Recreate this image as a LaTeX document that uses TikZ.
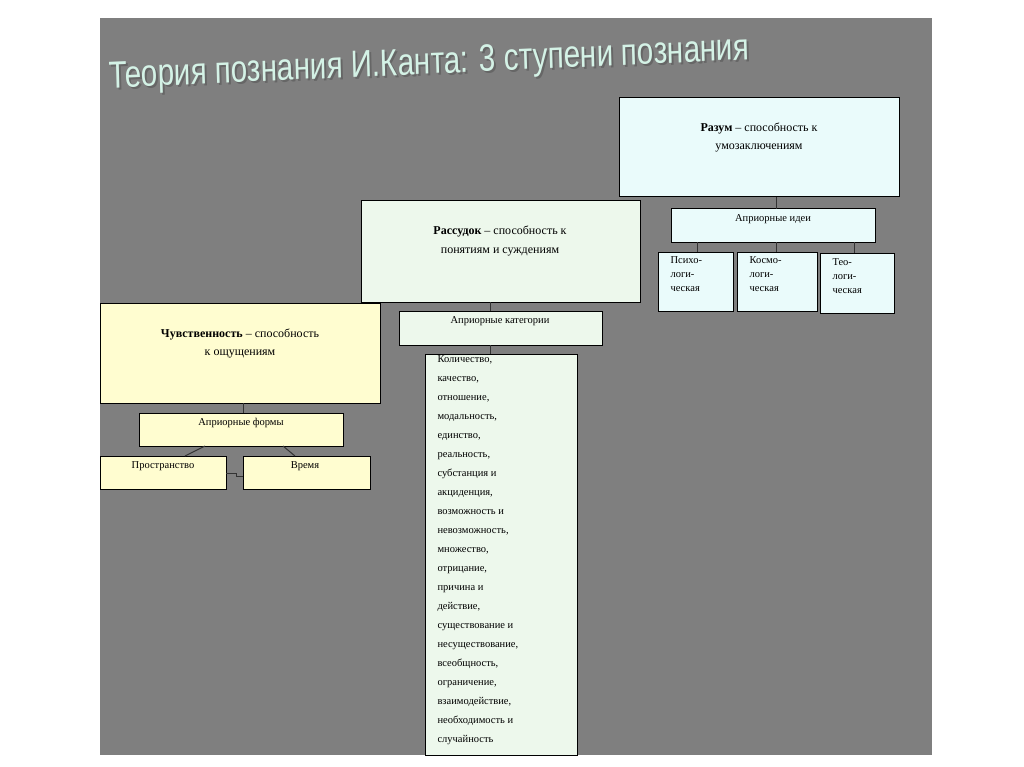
\documentclass[tikz,border=0pt]{standalone}
\usepackage{fontspec}
\setmainfont{Liberation Serif}
\newfontfamily\titlefont{Liberation Sans}
\usetikzlibrary{positioning}

\definecolor{panelgray}{HTML}{7F7F7F}
\definecolor{razumfill}{HTML}{EAFBFB}
\definecolor{rassudokfill}{HTML}{EDF8EC}
\definecolor{chuvfill}{HTML}{FFFDD0}
\definecolor{titlecol}{HTML}{D4F2E6}

\begin{document}
\begin{tikzpicture}[
    x = 1pt, y = -1pt,
    box/.style = {draw = black, line width = 1pt, inner sep = 0pt},
    lbl/.style = {font = \fontsize{12}{18}\selectfont, align = center},
    small/.style = {font = \fontsize{10.5}{14}\selectfont, align = center},
    link/.style = {draw = black!80, line width = 1pt}
    ]

    \useasboundingbox (0, 0) rectangle (1024, 767);
    \fill [white] (0, 0) rectangle (1024, 767);
    \fill [panelgray] (100, 18) rectangle (932, 755);

    % title
    \node [font = \titlefont\fontsize{38}{40}\selectfont, text = black!60,
      xscale = 0.78, rotate = 2, anchor = west] at (108, 81) {Теория познания И.Канта: 3 ступени познания};
    \node [font = \titlefont\fontsize{38}{40}\selectfont, text = titlecol,
      xscale = 0.78, rotate = 2, anchor = west] at (106, 79) {Теория познания И.Канта: 3 ступени познания};

    % Разум
    \filldraw [box, fill = razumfill] (619, 98) rectangle (899, 197);
    \node [lbl] (razum) at (759, 138) {\textbf{Разум} -- способность к\\умозаключениям};
    \filldraw [box, fill = razumfill] (671, 209) rectangle (875, 242);
    \node [small] (idei) at (773, 219) {Априорные идеи};
    \filldraw [box, fill = razumfill] (658, 252) rectangle (733, 311);
    \filldraw [box, fill = razumfill] (737, 252) rectangle (817, 311);
    \filldraw [box, fill = razumfill] (820, 253) rectangle (894, 313);
    \node [small, align = left, anchor = north west] (psikho) at (667, 253) {Психо-\\логи-\\ческая};
    \node [small, align = left, anchor = north west] (kosmo) at (746, 253) {Космо-\\логи-\\ческая};
    \node [small, align = left, anchor = north west] (teo) at (829, 255) {Тео-\\логи-\\ческая};
    \draw [link] (776, 197) -- (776, 209);
    \draw [link] (697, 242) -- (697, 252);
    \draw [link] (776, 242) -- (776, 252);
    \draw [link] (854, 242) -- (854, 253);

    % Рассудок
    \filldraw [box, fill = rassudokfill] (361, 201) rectangle (640, 302);
    \node [lbl] (rassudok) at (500, 241) {\textbf{Рассудок} -- способность к\\понятиям и суждениям};
    \filldraw [box, fill = rassudokfill] (399, 311) rectangle (602, 345);
    \node [small] (kateg) at (500, 321) {Априорные категории};
    \filldraw [box, fill = rassudokfill] (425, 354) rectangle (577, 755);
    \node [font = \fontsize{10.5}{19}\selectfont, align = left, anchor = north west] (spisok) at (434, 352)
      {Количество,\\качество,\\отношение,\\модальность,\\единство,\\реальность,\\субстанция и\\акциденция,\\возможность и\\невозможность,\\множество,\\отрицание,\\причина и\\действие,\\существование и\\несуществование,\\всеобщность,\\ограничение,\\взаимодействие,\\необходимость и\\случайность};
    \draw [link] (490, 302) -- (490, 311);
    \draw [link] (490, 345) -- (490, 354);

    % Чувственность
    \filldraw [box, fill = chuvfill] (100, 303) rectangle (380, 403);
    \node [lbl] (chuv) at (240, 343) {\textbf{Чувственность} -- способность\\к ощущениям};
    \filldraw [box, fill = chuvfill] (139, 413) rectangle (343, 446);
    \node [small] (formy) at (241, 423) {Априорные формы};
    \filldraw [box, fill = chuvfill] (100, 456) rectangle (226, 489);
    \filldraw [box, fill = chuvfill] (243, 456) rectangle (370, 489);
    \node [small] (prostr) at (163, 466) {Пространство};
    \node [small] (vremya) at (305, 466) {Время};
    \draw [link] (243, 403) -- (243, 413);
    \draw [link] (205, 446) -- (185, 456);
    \draw [link] (283, 446) -- (295, 456);
    \draw [link] (226, 473) -- (236, 473) -- (236, 476) -- (243, 476);

\end{tikzpicture}
\end{document}
